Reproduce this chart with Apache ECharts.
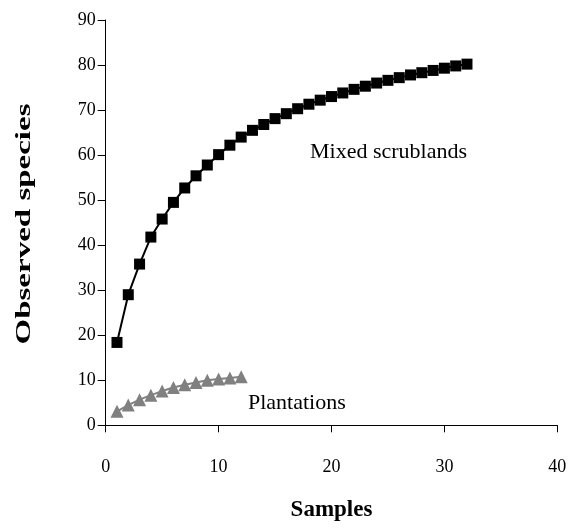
<!DOCTYPE html>
<html><head><meta charset="utf-8">
<script src="https://cdn.jsdelivr.net/npm/echarts@6/dist/echarts.min.js"></script>
<style>html,body{margin:0;padding:0;background:#fff}#c{width:571px;height:531px}</style>
</head><body><div id="c"></div>
<script>
const samplesMixed = [1,2,3,4,5,6,7,8,9,10,11,12,13,14,15,16,17,18,19,20,21,22,23,24,25,26,27,28,29,30,31,32];
const mixedScrublands = [18.4,29.0,35.8,41.8,45.8,49.5,52.7,55.4,57.8,60.1,62.2,64.0,65.5,66.8,68.1,69.2,70.3,71.3,72.2,73.0,73.8,74.6,75.3,76.0,76.6,77.2,77.8,78.3,78.8,79.3,79.8,80.2];
const samplesPlant = [1,2,3,4,5,6,7,8,9,10,11,12];
const plantations = [3.1,4.5,5.7,6.7,7.6,8.4,9.0,9.5,10.0,10.3,10.5,10.8];
const xTicks = [0,10,20,30,40];
const yTicks = [0,10,20,30,40,50,60,70,80,90];

const chart = echarts.init(document.getElementById('c'));
const font = '"Liberation Serif","Times New Roman",serif';
chart.setOption({
  animation:false,
  grid:{left:105.7,right:13.7,top:20,bottom:105.7,containLabel:false,outerBoundsMode:'none'},
  xAxis:{type:'value',min:xTicks[0],max:xTicks[xTicks.length-1],interval:10,
    name:'Samples',nameLocation:'middle',nameGap:73,
    nameTextStyle:{fontFamily:font,fontSize:23,fontWeight:'bold',color:'#000'},
    axisLine:{lineStyle:{color:'#000',width:1}},
    axisTick:{inside:false,length:7,lineStyle:{color:'#000'}},
    axisLabel:{fontFamily:font,fontSize:18,color:'#000',margin:33},
    splitLine:{show:false}},
  yAxis:{type:'value',min:yTicks[0],max:yTicks[yTicks.length-1],interval:10,
    axisLine:{show:true,lineStyle:{color:'#000',width:1}},
    axisTick:{show:true,inside:false,length:8,lineStyle:{color:'#000'}},
    axisLabel:{fontFamily:font,fontSize:18,color:'#000',margin:10},
    splitLine:{show:false}},
  series:[
    {type:'line',data:samplesMixed.map((x,i)=>[x,mixedScrublands[i]]),
     symbol:'rect',symbolSize:11,itemStyle:{color:'#000'},lineStyle:{color:'#000',width:2}},
    {type:'line',data:samplesPlant.map((x,i)=>[x,plantations[i]]),
     symbol:'triangle',symbolSize:13,itemStyle:{color:'#808080'},lineStyle:{color:'#808080',width:2}}
  ],
  graphic:[
    {type:'text',x:24,y:224,rotation:Math.PI/2,scaleX:1.5,scaleY:1,
     style:{text:'Observed species',font:'bold 22px '+font,fill:'#000',align:'center',verticalAlign:'middle'}},
    {type:'text',left:310,top:141,style:{text:'Mixed scrublands',font:'22px '+font,fill:'#000'}},
    {type:'text',left:248,top:392,style:{text:'Plantations',font:'22px '+font,fill:'#000'}}
  ]
});
</script></body></html>
